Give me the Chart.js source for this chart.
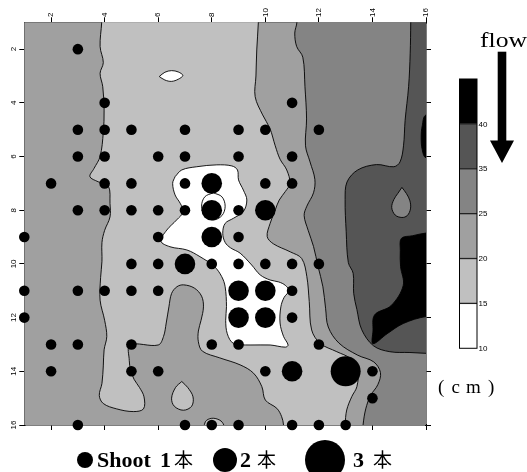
<!DOCTYPE html>
<html>
<head>
<meta charset="utf-8">
<script src="https://cdn.jsdelivr.net/npm/chart.js@4/dist/chart.umd.min.js"></script>
<style>
html, body { margin: 0; padding: 0; background: #fff; }
canvas { display: block; }
</style>
</head>
<body>
<canvas id="c" width="527" height="472"></canvas>
<script>
// Shoot positions on the survey grid (cm), grouped by number of shoots
const shoot1 = [
  [3,2],
  [4,4],[11,4],
  [3,5],[4,5],[5,5],[7,5],[9,5],[10,5],[12,5],
  [3,6],[4,6],[6,6],[7,6],[9,6],[11,6],
  [2,7],[4,7],[5,7],[7,7],[10,7],[11,7],
  [3,8],[4,8],[5,8],[6,8],[7,8],[9,8],
  [1,9],[6,9],[9,9],
  [5,10],[6,10],[8,10],[9,10],[10,10],[11,10],[12,10],
  [1,11],[3,11],[4,11],[5,11],[6,11],[11,11],
  [1,12],[11,12],
  [2,13],[3,13],[5,13],[8,13],[9,13],[12,13],
  [2,14],[5,14],[6,14],[10,14],[14,14],
  [14,15],
  [3,16],[7,16],[8,16],[9,16],[11,16],[12,16],[13,16]
];
const shoot2 = [[8,7],[8,8],[10,8],[8,9],[7,10],[9,11],[10,11],[9,12],[10,12],[11,14]];
const shoot3 = [[13,14]];

const xTickValues = [2,4,6,8,10,12,14,16];
const yTickValues = [2,4,6,8,10,12,14,16];

// Colour bar, listed top to bottom
const legendLevels = [40,35,25,20,15,10];
const bandColors = ['#000000','#555555','#848484','#a0a0a0','#c0c0c0','#ffffff'];

// Contour outlines (cm). Frame points lie outside the 1..16 window and are clipped away.
const contourBase = [[0,0],[17,0],[17,17],[0,17],[0,0]];

const contour25 = [
  [11.15,0.6],[11.18,1.0],[11.1,1.4],[11.17,1.9],[11.4,2.3],[11.48,3.4],[11.54,4.6],[11.5,5.6],
  [11.67,6.2],[11.85,6.85],[11.8,7.35],[11.55,7.85],[11.45,8.2],[11.6,8.75],[11.8,9.35],[11.97,10.1],
  [12.15,10.85],[12.25,11.65],[12.35,12.35],[12.75,12.95],[13.45,13.4],[14.05,13.65],[14.3,14.05],
  [14.2,14.5],[13.93,14.9],[13.75,15.4],[13.65,16.0],[13.62,16.6],
  [16.8,16.6],[16.8,0.6],[11.15,0.6]
];

const contour35 = [
  [15.43,0.6],[15.43,1.0],[15.41,2.15],[15.35,3.4],[15.22,4.65],[15.16,5.6],[15.03,6.2],[14.8,6.38],
  [14.15,6.3],[13.45,6.5],[13.05,6.95],[12.98,7.6],[13.02,8.8],[13.1,9.95],[13.28,10.35],[13.3,11.1],
  [13.42,11.7],[13.6,12.45],[14.04,13.05],[14.65,13.27],[15.4,13.3],[16.0,13.33],[16.8,13.35],
  [16.8,0.6],[15.43,0.6]
];

const contour40a = [
  [16.8,4.4],[16.0,4.45],[15.86,4.85],[15.82,5.3],[15.86,5.75],[16.0,6.05],[16.8,6.1],[16.8,4.4]
];

const contour40b = [
  [16.8,8.8],[16.0,8.85],[15.5,8.95],[15.08,9.05],[15.04,9.5],[15.05,10.1],[15.15,10.8],[14.7,11.55],
  [14.08,11.9],[14.02,12.5],[14.02,12.97],[14.55,12.6],[15.15,12.22],[16.0,11.96],[16.8,11.95],[16.8,8.8]
];

const contour25Drop = [
  [15.1,7.15],[15.27,7.38],[15.4,7.65],[15.42,7.95],[15.3,8.2],[15.1,8.27],[14.85,8.18],[14.72,7.9],
  [14.8,7.6],[14.95,7.37],[15.1,7.15]
];

const contour15Main = [
  [3.89,0.6],[3.89,1.0],[3.83,1.9],[3.95,2.5],[3.83,2.9],[3.93,3.4],[3.98,4.27],[3.95,5.1],[3.83,6.0],
  [3.6,6.45],[3.45,6.75],[3.76,6.94],[4.14,7.1],[4.2,7.75],[4.2,8.25],[4.0,8.75],[3.9,9.2],[3.9,9.9],
  [3.85,10.5],[3.83,11.35],[4.0,12.1],[4.08,12.7],[3.98,13.2],[3.95,13.8],[3.9,14.45],[3.8,14.9],
  [3.95,15.2],[4.45,15.4],[5.07,15.5],[5.45,15.4],[5.47,14.95],[5.3,14.6],[5.1,14.3],[4.97,13.95],
  [4.92,13.6],[4.95,13.02],[6.0,13.02],[6.2,12.7],[6.3,12.2],[6.4,11.6],[6.5,11.1],[6.7,10.85],
  [6.95,10.78],[7.35,10.9],[7.62,11.2],[7.69,11.6],[7.6,12.1],[7.5,12.5],[7.5,12.9],[7.65,13.25],
  [8.3,13.5],[9.06,13.76],[9.56,14.07],[9.87,14.57],[10.0,15.07],[10.43,15.38],[10.61,15.69],
  [10.68,16.0],[10.7,16.6],
  [12.97,16.6],
  [12.98,16.0],[13.04,15.44],[13.23,14.94],[13.42,14.57],[13.45,13.95],[13.17,13.52],[12.67,13.27],
  [12.05,12.96],[11.73,12.46],[11.64,11.4],[11.55,10.47],[11.36,9.8],[10.93,9.55],[10.3,9.25],
  [10.07,8.98],[10.18,8.49],[10.37,7.99],[10.52,7.62],[10.75,7.3],[10.92,7.0],[10.8,6.5],[10.55,6.1],
  [10.37,5.6],[10.17,4.95],[9.9,4.45],[9.62,3.77],[9.65,3.0],[9.68,2.03],[9.74,1.0],[9.74,0.6],
  [3.89,0.6]
];

const contour15Drop = [
  [6.88,14.38],[7.1,14.6],[7.3,14.95],[7.25,15.3],[6.94,15.45],[6.6,15.3],[6.5,15.0],[6.65,14.6],[6.88,14.38]
];

const contour15Bump = [
  [7.7,16.3],[7.76,15.88],[8.0,15.75],[8.3,15.82],[8.45,16.0],[8.5,16.3],[7.7,16.3]
];

const contour10Main = [
  [6.63,6.75],[6.88,6.5],[7.44,6.38],[8.19,6.31],[8.75,6.35],[8.96,6.5],[9.0,6.87],[9.18,7.25],
  [9.31,7.62],[9.18,8.05],[8.81,8.3],[8.5,8.49],[8.41,8.86],[8.5,9.2],[8.7,9.4],[9.06,9.6],
  [9.49,10.04],[9.81,10.41],[10.18,10.6],[10.5,10.67],[10.75,10.8],[10.88,11.0],[10.7,11.25],
  [10.58,11.6],[10.55,12.2],[10.68,12.7],[10.85,13.02],[10.75,13.1],[10.18,13.02],[9.43,13.02],
  [8.81,12.96],[8.58,12.6],[8.52,12.1],[8.55,11.59],[8.5,10.85],[8.37,10.47],[8.1,10.1],[7.56,9.73],
  [7.07,9.48],[6.44,9.36],[6.1,9.15],[6.32,8.74],[6.69,8.36],[6.94,8.05],[6.82,7.74],[6.63,7.43],
  [6.54,7.0],[6.63,6.75]
];

const contour10Lens = [
  [6.04,3.02],[6.25,2.86],[6.5,2.8],[6.75,2.85],[6.92,2.98],[6.75,3.12],[6.5,3.2],[6.25,3.15],[6.04,3.02]
];

const contour10Ring = [
  [8.06,7.35],[8.38,7.5],[8.5,7.85],[8.38,8.2],[8.06,8.36],[7.74,8.2],[7.62,7.85],[7.74,7.5],[8.06,7.35]
];

const toXY = pts => pts.map(([x, y]) => ({ x, y }));

function area(points, color, order, borderWidth) {
  return {
    type: 'line',
    data: toXY(points),
    backgroundColor: color,
    borderColor: '#000',
    borderWidth: borderWidth,
    fill: 'shape',
    pointRadius: 0,
    pointHoverRadius: 0,
    tension: 0.35,
    capBezierPoints: false,
    clip: 0,
    order: order
  };
}

function shoots(points, radius, order) {
  return {
    type: 'scatter',
    data: toXY(points),
    pointRadius: radius,
    pointHoverRadius: radius,
    backgroundColor: '#000',
    pointBorderWidth: 0,
    borderWidth: 0,
    showLine: false,
    clip: false,
    order: order
  };
}

const c15 = bandColors[4], c20 = bandColors[3], c25 = bandColors[2], c35 = bandColors[1], c40 = bandColors[0], c10 = bandColors[5];

const datasets = [
  shoots(shoot1, 5.3, 0),
  shoots(shoot2, 10.3, 1),
  shoots(shoot3, 15, 2),
  area(contour10Ring, c10, 3, 0.9),
  area(contour10Lens, c10, 4, 0.9),
  area(contour10Main, c10, 5, 0.9),
  area(contour15Bump, c15, 6, 0.9),
  area(contour15Drop, c15, 7, 0.9),
  area(contour15Main, c15, 8, 0.9),
  area(contour25Drop, c25, 9, 0.9),
  area(contour40b, c40, 10, 0.9),
  area(contour40a, c40, 11, 0.9),
  area(contour35, c35, 12, 0.9),
  area(contour25, c25, 13, 0.9),
  area(contourBase, c20, 14, 0)
];

function axis(position, ticksArr, reverse, fitFn) {
  return {
    type: 'linear',
    position: position,
    display: true,
    min: 1,
    max: 16,
    reverse: reverse,
    afterBuildTicks: s => { s.ticks = ticksArr.map(v => ({ value: v })); },
    ticks: { display: false },
    grid: {
      display: true,
      drawOnChartArea: false,
      drawTicks: true,
      tickLength: 5,
      color: '#000',
      tickColor: '#000',
      lineWidth: 1
    },
    border: { display: true, color: '#000', width: 1.5 },
    afterFit: fitFn
  };
}

// Rotated tick labels, colour bar, flow arrow, unit and shoot legend
const decorations = {
  id: 'decorations',
  afterDraw(chart) {
    const ctx = chart.ctx;
    const xs = chart.scales.x, ys = chart.scales.y;
    ctx.save();
    ctx.fillStyle = '#000';

    ctx.font = '8px "Liberation Sans", Arial, sans-serif';
    xTickValues.forEach(v => {
      ctx.save();
      ctx.translate(xs.getPixelForValue(v), 17);
      ctx.rotate(-Math.PI / 2);
      ctx.textAlign = 'left';
      ctx.textBaseline = 'middle';
      ctx.fillText(String(v), 0, 0);
      ctx.restore();
    });
    yTickValues.forEach(v => {
      ctx.save();
      ctx.translate(13.5, ys.getPixelForValue(v));
      ctx.rotate(-Math.PI / 2);
      ctx.textAlign = 'center';
      ctx.textBaseline = 'middle';
      ctx.fillText(String(v), 0, 0);
      ctx.restore();
    });

    // colour bar
    const barX = 459.5, barW = 17.5, barTop = 79, bandH = 44.88;
    bandColors.forEach((col, i) => {
      ctx.fillStyle = col;
      ctx.fillRect(barX, barTop + i * bandH, barW, bandH);
    });
    ctx.strokeStyle = '#222';
    ctx.lineWidth = 1.3;
    for (let i = 1; i < bandColors.length; i++) {
      const y = barTop + i * bandH;
      ctx.beginPath();
      ctx.moveTo(barX, y);
      ctx.lineTo(barX + barW, y);
      ctx.stroke();
    }
    ctx.strokeStyle = '#000';
    ctx.lineWidth = 1;
    ctx.strokeRect(barX, barTop, barW, bandH * bandColors.length);
    ctx.fillStyle = '#000';
    ctx.font = '8px "Liberation Sans", Arial, sans-serif';
    ctx.textAlign = 'left';
    ctx.textBaseline = 'middle';
    legendLevels.forEach((lv, i) => {
      ctx.fillText(String(lv), barX + barW + 1.5, barTop + (i + 1) * bandH + 0.5);
    });

    // flow label and arrow
    ctx.font = '20px "Liberation Serif", "Times New Roman", serif';
    ctx.textBaseline = 'alphabetic';
    const fw = ctx.measureText('flow').width;
    ctx.save();
    ctx.translate(480, 46.7);
    ctx.scale(47 / fw, 1);
    ctx.fillText('flow', 0, 0);
    ctx.restore();
    ctx.fillRect(497.7, 51.7, 8.6, 90);
    ctx.beginPath();
    ctx.moveTo(490, 140.5);
    ctx.lineTo(514, 140.5);
    ctx.lineTo(502, 163);
    ctx.closePath();
    ctx.fill();

    // unit
    ctx.font = '19px "Liberation Serif", "Times New Roman", serif';
    ctx.fillText('(', 438, 393);
    ctx.fillText('c', 451.5, 393);
    ctx.fillText('m', 466, 393);
    ctx.fillText(')', 488, 393);

    // shoot legend
    [[85, 8], [225, 12], [325, 20]].forEach(([cx, r]) => {
      ctx.beginPath();
      ctx.arc(cx, 460, r, 0, Math.PI * 2);
      ctx.fill();
    });
    ctx.font = 'bold 22px "Liberation Serif", "Times New Roman", serif';
    ctx.fillText('Shoot', 97, 466.5);
    ctx.fillText('1', 160, 466.5);
    ctx.fillText('2', 240, 466.5);
    ctx.fillText('3', 353, 466.5);
    ctx.font = '19px "Noto Sans CJK JP", sans-serif';
    ctx.fillText('本', 174, 466.5);
    ctx.fillText('本', 257, 466.5);
    ctx.fillText('本', 373, 466.5);

    ctx.restore();
  }
};

new Chart(document.getElementById('c'), {
  type: 'scatter',
  data: { datasets: datasets },
  options: {
    responsive: false,
    devicePixelRatio: 1,
    animation: false,
    events: [],
    layout: { padding: { left: 0, top: 0, right: 101, bottom: 47 } },
    plugins: { legend: { display: false }, tooltip: { enabled: false } },
    scales: {
      x: axis('top', xTickValues, false, s => { s.height = 22.3; }),
      x2: axis('bottom', xTickValues, false, s => { s.height = 0; }),
      y: axis('left', yTickValues, true, s => { s.width = 24.3; }),
      y2: axis('right', yTickValues, true, s => { s.width = 0; })
    }
  },
  plugins: [decorations]
});
</script>
</body>
</html>
